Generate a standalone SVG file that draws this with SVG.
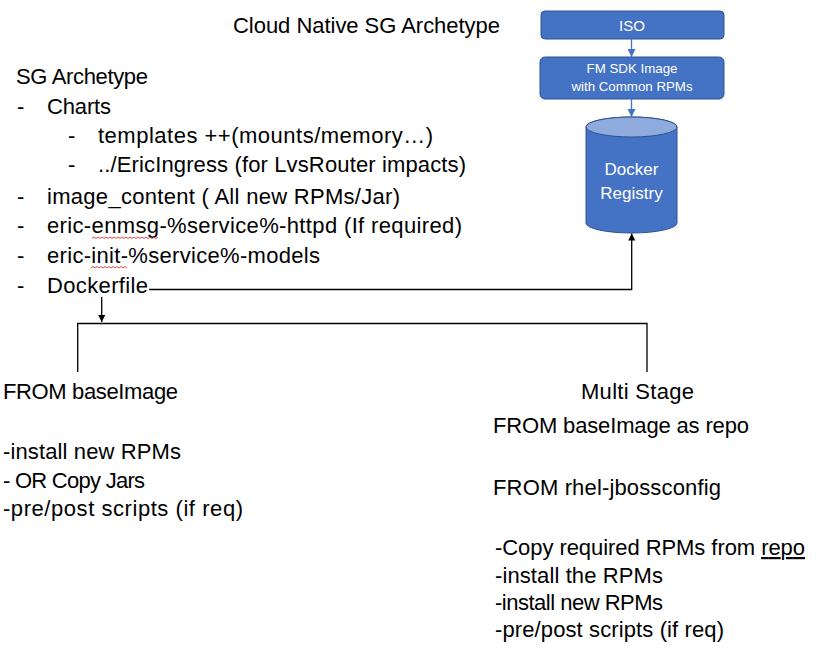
<svg xmlns="http://www.w3.org/2000/svg" width="824" height="663" viewBox="0 0 824 663">
<defs>
<style>
.t{font-family:"Liberation Sans",Arial,sans-serif;font-size:22px;fill:#000}
.w{font-family:"Liberation Sans",Arial,sans-serif;fill:#fff;text-anchor:middle}
.box{fill:#4472C4;stroke:#2F528F;stroke-width:1}
.ln{fill:none;stroke:#000;stroke-width:1.3}
.bl{fill:none;stroke:#4472C4;stroke-width:1.3}
.sq{fill:none;stroke:#e03030;stroke-width:0.9}
</style>
<marker id="ab" viewBox="0 0 10 10" refX="10" refY="5" markerWidth="7" markerHeight="7" markerUnits="userSpaceOnUse" orient="auto"><path d="M0,0L10,5L0,10z" fill="#000"/></marker>
<marker id="abl" viewBox="0 0 10 10" refX="10" refY="5" markerWidth="8" markerHeight="8" markerUnits="userSpaceOnUse" orient="auto"><path d="M0,0L10,5L0,10z" fill="#4472C4"/></marker>
</defs>
<rect width="824" height="663" fill="#fff"/>

<g id="title"><text class="t" x="233" y="33" textLength="267">Cloud Native SG Archetype</text></g>

<g id="iso"><rect class="box" x="541" y="11" width="183" height="28" rx="4"/><text class="w" x="632" y="31" font-size="15">ISO</text></g>
<g id="fmsdk"><rect class="box" x="540" y="57" width="184" height="42" rx="5"/><text class="w" x="632" y="73" font-size="13.3">FM SDK Image</text><text class="w" x="632" y="91" font-size="13.3">with Common RPMs</text></g>
<g id="registry">
<path class="box" d="M586,127 A45.5,10 0 0 1 677,127 L677,223 A45.5,10 0 0 1 586,223 Z"/>
<ellipse cx="631.5" cy="127" rx="45.5" ry="10" fill="#8FAADC" stroke="#2F528F" stroke-width="1"/>
<text class="w" x="631.5" y="175" font-size="17">Docker</text>
<text class="w" x="631.5" y="199" font-size="17">Registry</text>
</g>

<g id="sg-archetype">
<text class="t" x="16" y="84" textLength="132">SG Archetype</text>
<text class="t" x="17" y="114">-</text><text class="t" x="47" y="114" textLength="64">Charts</text>
<text class="t" x="68" y="142.5">-</text><text class="t" x="98" y="142.5" textLength="335">templates ++(mounts/memory…)</text>
<text class="t" x="68" y="171.5">-</text><text class="t" x="98" y="171.5" textLength="368">../EricIngress (for LvsRouter impacts)</text>
<text class="t" x="17" y="204">-</text><text class="t" x="47" y="204" textLength="353">image_content ( All new RPMs/Jar)</text>
<text class="t" x="17" y="233">-</text><text class="t" x="47" y="233" textLength="415">eric-enmsg-%service%-httpd (If required)</text>
<text class="t" x="17" y="263">-</text><text class="t" x="47" y="263" textLength="273">eric-init-%service%-models</text>
<text class="t" x="17" y="293">-</text><text class="t" x="47" y="293" textLength="101">Dockerfile</text>
<path class="sq" d="M92,238.5 l2,-1.5 l2,1.5 l2,-1.5 l2,1.5 l2,-1.5 l2,1.5 l2,-1.5 l2,1.5 l2,-1.5 l2,1.5 l2,-1.5 l2,1.5 l2,-1.5 l2,1.5 l2,-1.5 l2,1.5 l2,-1.5 l2,1.5 l2,-1.5 l2,1.5 l2,-1.5 l2,1.5 l2,-1.5 l2,1.5 l2,-1.5 l2,1.5 l2,-1.5 l2,1.5 l2,-1.5 l2,1.5 l2,-1.5 l2,1.5 l2,-1.5"/>
<path class="sq" d="M91,268 l2,-1.5 l2,1.5 l2,-1.5 l2,1.5 l2,-1.5 l2,1.5 l2,-1.5 l2,1.5 l2,-1.5 l2,1.5 l2,-1.5 l2,1.5 l2,-1.5 l2,1.5 l2,-1.5 l2,1.5 l2,-1.5 l2,1.5"/>
</g>

<g id="from-base">
<text class="t" x="3" y="399" textLength="175">FROM baseImage</text>
<text class="t" x="3" y="459" textLength="178">-install new RPMs</text>
<text class="t" x="3" y="488" textLength="142">- OR Copy Jars</text>
<text class="t" x="3" y="516" textLength="240">-pre/post scripts (if req)</text>
</g>

<g id="multi-stage">
<text class="t" x="581" y="399" textLength="113">Multi Stage</text>
<text class="t" x="493" y="433" textLength="256">FROM baseImage as repo</text>
<text class="t" x="493" y="495" textLength="228">FROM rhel-jbossconfig</text>
<text class="t" x="495" y="555" textLength="310">-Copy required RPMs from <tspan text-decoration="underline">repo</tspan></text>
<text class="t" x="495" y="583" textLength="168">-install the RPMs</text>
<text class="t" x="495" y="610" textLength="168">-install new RPMs</text>
<text class="t" x="495" y="637" textLength="229">-pre/post scripts (if req)</text>
</g>

<g id="connectors">
<line class="bl" x1="631.5" y1="39" x2="631.5" y2="57" marker-end="url(#abl)"/>
<line class="bl" x1="631.5" y1="99" x2="631.5" y2="117" marker-end="url(#abl)"/>
<path class="ln" d="M149,289.5 H631.7 V233.5" marker-end="url(#ab)"/>
<line class="ln" x1="101.7" y1="297" x2="101.7" y2="322" marker-end="url(#ab)"/>
<path class="ln" d="M77.7,372 V323.5 H647 V372"/>
</g>
</svg>
